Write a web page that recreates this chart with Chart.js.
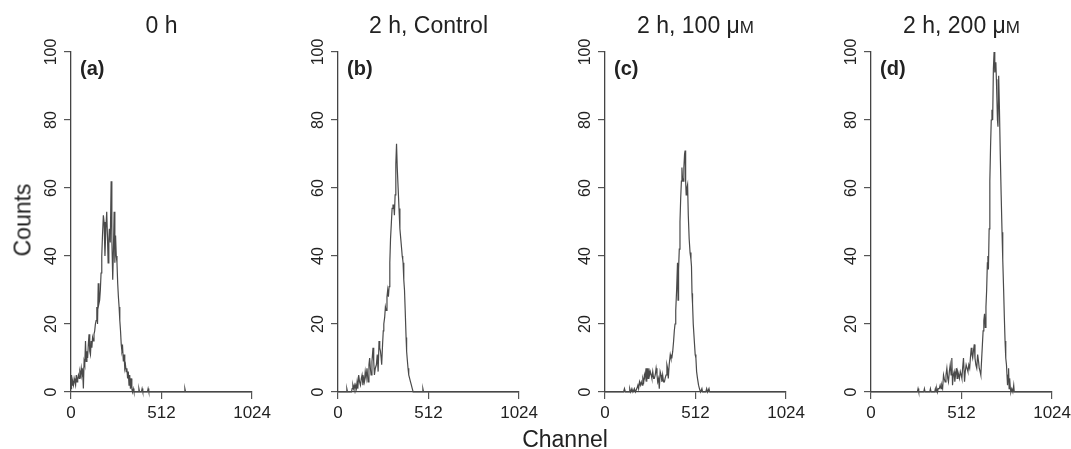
<!DOCTYPE html>
<html>
<head>
<meta charset="utf-8">
<script src="https://cdn.jsdelivr.net/npm/chart.js@4.4.1/dist/chart.umd.min.js"></script>
<style>
  body { margin: 0; background: #fff; }
  #wrap { position: relative; width: 1071px; height: 449px; overflow: hidden; }
  canvas { position: absolute; top: 0; }
  .axisTitle { position: absolute; font: 23px "Liberation Sans", Arial, sans-serif; line-height: 23px; color: #222; white-space: nowrap; }
</style>
</head>
<body>
<div id="wrap">
  <canvas id="pa" width="274" height="449"></canvas>
  <canvas id="pb" width="274" height="449"></canvas>
  <canvas id="pc" width="274" height="449"></canvas>
  <canvas id="pd" width="274" height="449"></canvas>
  <div class="axisTitle" style="left:22.5px; top:220px; transform: translate(-50%,-50%) rotate(-90deg);">Counts</div>
  <div class="axisTitle" style="left:565px; top:428px; transform: translateX(-50%);">Channel</div>
</div>
<script>
// tick labels
const xTicks = [0, 512, 1024];
const yTicks = [0, 20, 40, 60, 80, 100];

// titles + panel letters
const titles = ['0 h', '2 h, Control', '2 h, 100 μM', '2 h, 200 μM'];
const letters = ['(a)', '(b)', '(c)', '(d)'];

// histograms, [channel, counts]
const histA = [
  [0,1],[3,5],[6,2],[10,3],[14,2],[18,4],[22,3],[26,2],[30,5],[34,3],[38,4],[42,5],[46,4],[50,6],[54,5],[58,7],
  [62,5],[66,6],[70,1],[74,9],[78,8],[82,15],[86,9],[90,12],[94,10],[98,14],[102,17],[106,12],[110,11],[114,15],
  [118,13],[122,16],[126,15],[130,17],[134,18],[138,20],[142,21],[146,25],[150,20],[154,32],[158,26],[162,27],
  [166,30],[170,35],[174,40],[178,46],[183,52],[187,50],[192,40],[197,48],[202,53],[206,46],[210,38],[214,45],
  [217,48],[222,44],[227,62],[231,45],[236,33],[240,42],[244,53],[248,38],[252,46],[256,40],[260,38],[264,32],
  [268,28],[272,25],[276,21],[280,18],[284,14],[288,12],[292,13],[296,9],[300,11],[304,7],[308,8],[312,6],
  [316,7],[320,4],[324,6],[328,2],[332,5],[336,1],[340,4],[344,1],[348,0],[352,1],[356,0],[380,0],[384,1],
  [388,0],[398,0],[402,1],[406,0],[432,0],[436,1],[440,0],[640,0],[644,1],[648,0],[1024,0]
];

const histB = [
  [0,0],[46,0],[50,1],[54,0],[76,0],[80,1],[84,2],[88,1],[92,2],[96,1],[100,2],[104,1],[108,3],[112,1],
  [117,5],[122,3],[127,2],[132,4],[136,5],[141,2],[145,4],[149,3],[154,6],[159,4],[164,7],[170,3],[175,8],
  [179,10],[183,7],[187,5],[192,9],[198,13],[202,9],[206,5],[211,7],[217,8],[222,11],[227,6],[232,15],
  [236,13],[240,12],[244,10],[247,8],[252,14],[256,18],[259,20],[264,22],[268,25],[272,24],[277,28],[281,30],
  [285,28],[289,31],[293,38],[297,45],[302,50],[306,54],[311,55],[315,55],[319,52],[323,58],[327,67],[331,73],
  [335,66],[340,60],[345,54],[350,48],[355,45],[360,42],[363,40],[366,39],[368,38],[372,33],[376,30],[380,24],
  [385,16],[388,12],[391,10],[396,7],[400,5],[405,4],[410,3],[415,2],[420,1],[425,0],[476,0],[480,1],[484,0],
  [1024,0]
];

const histC = [
  [0,0],[105,0],[110,1],[115,0],[136,0],[140,1],[145,0],[152,1],[158,0],[166,1],[172,0],[180,1],[186,2],
  [190,1],[195,3],[200,2],[205,3],[210,2],[214,4],[219,3],[223,5],[227,4],[232,7],[236,3],[240,7],[244,4],
  [248,7],[252,5],[256,6],[261,5],[265,4],[270,6],[275,4],[279,4],[284,5],[289,7],[294,5],[298,3],[303,4],
  [307,1],[312,6],[317,5],[322,3],[326,5],[331,3],[336,3],[340,4],[345,5],[350,8],[354,7],[358,4],[363,8],
  [369,11],[373,10],[378,10],[383,12],[388,15],[392,18],[396,20],[400,24],[405,30],[410,38],[413,27],[416,36],
  [420,42],[424,50],[428,57],[432,62],[435,66],[438,63],[442,62],[446,66],[450,70],[453,71],[456,62],[459,58],
  [463,60],[467,61],[471,52],[476,45],[481,41],[486,39],[489,37],[492,29],[495,26],[499,20],[505,15],[510,11],
  [514,10],[518,6],[523,4],[529,2],[534,1],[540,0],[548,1],[552,0],[570,0],[575,1],[580,0],[588,1],[592,0],
  [1024,0]
];

const histD = [
  [0,0],[262,0],[266,1],[270,0],[298,0],[302,1],[306,0],[332,0],[336,1],[340,0],[360,0],[364,1],[368,0],
  [372,1],[376,0],[380,1],[386,1],[391,2],[396,1],[400,2],[405,1],[410,5],[414,4],[419,3],[424,5],[429,7],
  [434,4],[438,3],[443,6],[448,8],[453,5],[457,10],[461,2],[465,5],[470,6],[474,3],[478,5],[483,7],[487,4],
  [491,6],[496,5],[500,4],[505,6],[510,5],[514,4],[518,7],[523,10],[529,3],[533,6],[538,8],[543,7],[548,6],
  [553,8],[558,7],[562,10],[567,13],[571,11],[575,10],[579,12],[584,14],[588,10],[593,8],[598,7],[603,11],
  [608,9],[612,7],[617,6],[621,5],[626,10],[630,14],[634,18],[638,21],[642,23],[646,19],[650,25],[654,30],
  [658,38],[661,40],[664,36],[668,48],[672,62],[676,72],[680,80],[684,83],[688,80],[692,95],[696,100],[700,94],
  [703,96],[706,97],[709,92],[712,86],[715,80],[718,78],[722,93],[726,84],[731,70],[736,58],[741,47],[745,39],
  [750,30],[754,22],[758,15],[762,10],[766,8],[770,4],[772,2],[776,5],[778,7],[781,1],[784,4],[788,1],[791,0],
  [796,1],[802,0],[807,2],[810,0],[1024,0]
];

const FONT = '"Liberation Sans", Arial, sans-serif';
const axisX = [71, 338, 605, 871];

// rotated y labels, title and panel letter
const panelText = {
  id: 'panelText',
  afterDraw(chart, args, opts) {
    const { ctx, chartArea } = chart;
    const yScale = chart.scales.y;
    ctx.save();
    ctx.fillStyle = '#222';
    ctx.font = '16px ' + FONT;
    ctx.textAlign = 'center';
    ctx.textBaseline = 'alphabetic';
    yTicks.forEach(v => {
      ctx.save();
      ctx.translate(chartArea.left - 15, yScale.getPixelForValue(v));
      ctx.rotate(-Math.PI / 2);
      ctx.fillText(String(v), 0, 0);
      ctx.restore();
    });

    // title, small-cap M after the mu
    const cx = (chartArea.left + chartArea.right) / 2;
    let main = opts.title, tail = '';
    if (main.endsWith('μM')) { main = main.slice(0, -1); tail = 'M'; }
    ctx.font = '23px ' + FONT;
    const w1 = ctx.measureText(main).width;
    ctx.font = '17px ' + FONT;
    const w2 = tail ? ctx.measureText(tail).width : 0;
    let x0 = cx - (w1 + w2) / 2;
    ctx.textAlign = 'left';
    ctx.font = '23px ' + FONT;
    ctx.fillText(main, x0, 33);
    if (tail) {
      ctx.font = '17px ' + FONT;
      ctx.fillText(tail, x0 + w1, 33);
    }

    ctx.font = 'bold 20px ' + FONT;
    ctx.fillText(opts.letter, chartArea.left + 9, 75);
    ctx.restore();
  }
};

function makePanel(id, hist, i) {
  const cv = document.getElementById(id);
  cv.style.left = (axisX[i] - 70) + 'px';
  return new Chart(cv, {
    type: 'line',
    data: {
      datasets: [{
        data: hist.map(p => ({ x: p[0], y: p[1] })),
        borderColor: '#4a4a4a',
        borderWidth: 1.2,
        pointRadius: 0,
        tension: 0,
        clip: false
      }]
    },
    options: {
      responsive: false,
      animation: false,
      layout: { padding: { left: 63, right: 22, top: 52, bottom: 27 } },
      plugins: {
        legend: { display: false },
        tooltip: { enabled: false },
        panelText: { title: titles[i], letter: letters[i] }
      },
      scales: {
        x: {
          type: 'linear',
          min: 0,
          max: 1024,
          afterBuildTicks: s => { s.ticks = xTicks.map(v => ({ value: v })); },
          afterFit: s => { s.height = 30; },
          grid: { drawOnChartArea: false, tickLength: 7, color: '#555', lineWidth: 1.2 },
          border: { color: '#444', width: 1.3 },
          ticks: {
            color: '#222', font: { family: FONT, size: 17 }, padding: 4, maxRotation: 0, autoSkip: false,
            callback: v => String(v)
          }
        },
        y: {
          min: 0,
          max: 100,
          afterBuildTicks: s => { s.ticks = yTicks.map(v => ({ value: v })); },
          afterFit: s => { s.width = 7; },
          grid: { drawOnChartArea: false, tickLength: 7, color: '#555', lineWidth: 1.2 },
          border: { color: '#444', width: 1.3 },
          ticks: { display: false }
        }
      }
    },
    plugins: [panelText]
  });
}

makePanel('pa', histA, 0);
makePanel('pb', histB, 1);
makePanel('pc', histC, 2);
makePanel('pd', histD, 3);
</script>
</body>
</html>
